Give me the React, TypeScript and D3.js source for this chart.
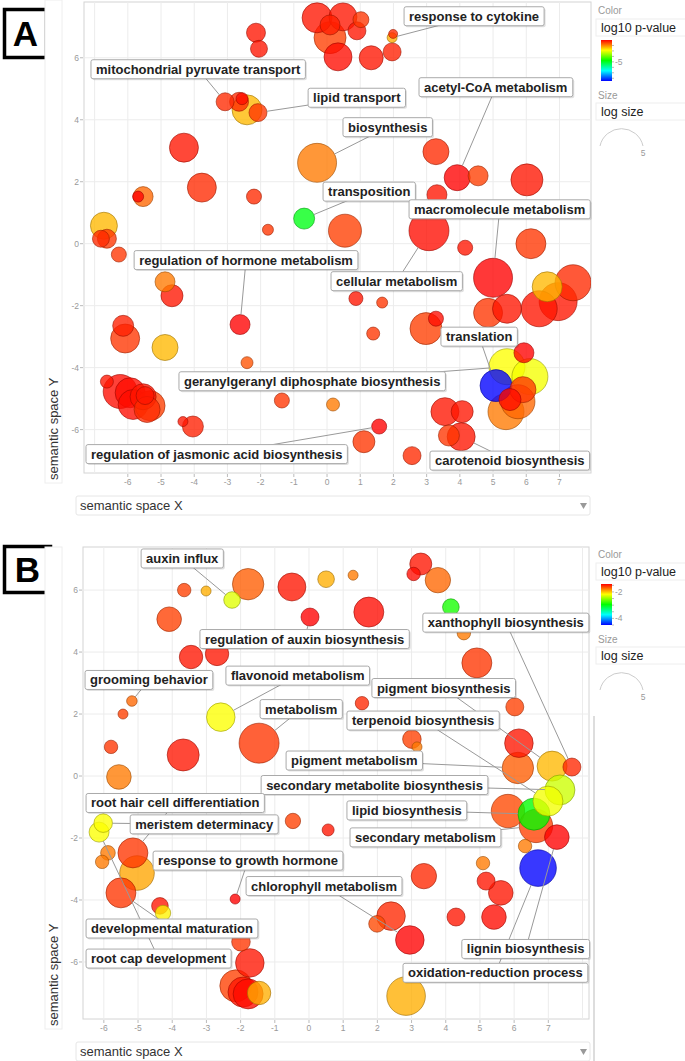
import * as d3 from "d3";
import React from "react";

// [semantic x, semantic y, log size, log10 p-value]
type Bubble = [number, number, number, number];
// [term, box left (x), box middle (y), index of bubble]
type Label = [string, number, number, number];

const bubblesA: Bubble[] = [
	[-0.3, 7.29, 3.57, -1.15], [0.48, 7.32, 3.33, -1.15], [0.09, 6.65, 3.81, -1.45], [0.09, 7.06, 2.38, -1.23],
	[0.33, 6.03, 3.33, -1.08], [1.02, 7.23, 1.9, -1.38], [0.9, 6.87, 2.14, -1.15], [1.99, 6.77, 1.07, -1.3],
	[1.96, 6.65, 1.19, -2.28], [1.96, 6.19, 2.14, -1.23], [1.33, 6.0, 2.86, -1.15], [-2.14, 6.81, 2.26, -1.15],
	[-2.05, 6.29, 2.02, -1.15], [-3.07, 4.58, 2.14, -1.3], [-2.41, 4.32, 3.57, -2.35], [-2.65, 4.58, 2.26, -1.3],
	[-2.56, 4.68, 1.43, -1.08], [-2.08, 4.23, 2.14, -1.38], [-4.31, 3.1, 3.45, -1.15], [-3.77, 1.81, 3.45, -1.3],
	[-2.2, 1.52, 1.79, -1.3], [-5.54, 1.52, 2.38, -1.75], [-5.69, 1.52, 1.31, -1.0], [-6.72, 0.58, 3.21, -2.35],
	[-6.81, 0.16, 2.02, -1.3], [-6.63, 0.16, 2.26, -1.38], [-6.27, -0.35, 1.79, -1.38], [-1.78, 0.45, 1.31, -1.38],
	[-0.69, 0.81, 2.5, -4.9], [0.54, 0.42, 3.93, -1.45], [-0.3, 2.61, 4.64, -1.9], [3.28, 2.97, 3.1, -1.3],
	[3.92, 2.13, 3.1, -1.0], [4.55, 2.19, 2.38, -1.45], [6.02, 2.06, 3.81, -1.15], [3.31, 1.58, 2.38, -1.15],
	[3.07, 0.42, 4.76, -1.08], [4.16, -0.13, 1.79, -1.15], [6.14, 0.0, 3.57, -1.38], [5.0, -1.1, 4.64, -1.0],
	[4.85, -2.23, 3.45, -1.38], [5.42, -2.1, 3.45, -1.15], [6.39, -2.1, 4.29, -1.15], [6.96, -1.87, 4.52, -1.15],
	[7.41, -1.26, 4.29, -1.3], [6.63, -1.39, 3.57, -2.35], [0.87, -1.77, 1.67, -1.15], [1.66, -1.9, 1.31, -1.38],
	[-4.88, -1.23, 2.38, -1.9], [-4.67, -1.68, 2.62, -1.15], [-2.62, -2.61, 2.38, -1.0], [-6.14, -2.65, 2.5, -1.23],
	[-6.08, -3.06, 3.45, -1.38], [-4.88, -3.35, 3.1, -2.35], [-2.41, -3.84, 1.43, -1.6], [1.39, -2.9, 1.55, -1.38],
	[2.98, -2.74, 3.81, -1.45], [3.28, -2.42, 1.79, -1.08], [5.93, -3.52, 2.38, -1.0], [5.42, -3.97, 4.29, -2.88],
	[6.11, -4.29, 4.29, -2.95], [5.39, -5.42, 4.29, -1.9], [5.75, -5.1, 4.05, -1.75], [5.09, -4.58, 3.81, -8.5],
	[5.9, -4.71, 3.1, -1.38], [5.51, -5.03, 2.62, -1.08], [-6.63, -4.45, 1.55, -1.15], [-6.23, -4.77, 4.05, -1.08],
	[-5.93, -4.81, 3.57, -1.08], [-5.84, -5.19, 3.57, -1.08], [-5.54, -4.94, 3.1, -1.15], [-5.33, -5.23, 3.57, -1.45],
	[-5.42, -5.35, 3.1, -1.3], [-5.48, -4.9, 2.14, -1.15], [-4.34, -5.74, 1.19, -1.15], [-4.04, -5.9, 2.5, -1.23],
	[-1.36, -5.06, 1.79, -1.38], [0.18, -5.19, 1.55, -1.9], [3.55, -5.42, 3.33, -1.15], [4.07, -5.42, 2.62, -1.15],
	[3.67, -6.19, 2.5, -1.38], [4.04, -6.23, 3.33, -1.15], [1.57, -5.9, 1.79, -1.0], [1.11, -6.39, 2.62, -1.38],
	[2.56, -6.84, 2.14, -1.3],
];

const labelsA: Label[] = [
	["response to cytokine", 2.32, 7.34, 8],
	["mitochondrial pyruvate transport", -7.11, 5.63, 13],
	["lipid transport", -0.57, 4.71, 17],
	["acetyl-CoA metabolism", 2.77, 5.05, 32],
	["biosynthesis", 0.48, 3.76, 30],
	["transposition", -0.12, 1.68, 28],
	["macromolecule metabolism", 2.47, 1.11, 39],
	["regulation of hormone metabolism", -5.81, -0.53, 50],
	["cellular metabolism", 0.12, -1.21, 36],
	["translation", 3.43, -3.0, 63],
	["geranylgeranyl diphosphate biosynthesis", -4.46, -4.44, 59],
	["regulation of jasmonic acid biosynthesis", -7.26, -6.79, 82],
	["carotenoid biosynthesis", 3.1, -7.0, 81],
];

const bubblesB: Bubble[] = [
	[-3.65, 6.0, 1.6, -1.59], [-3.01, 5.97, 1.19, -1.93], [-2.25, 5.68, 1.98, -2.27], [-1.78, 6.19, 3.74, -1.68],
	[-0.5, 6.1, 3.33, -1.46], [0.5, 6.35, 1.98, -1.93], [0.03, 5.13, 2.14, -1.4], [-4.09, 5.06, 2.93, -1.59],
	[-3.45, 3.84, 2.79, -1.46], [-2.69, 3.94, 2.79, -1.46], [-5.18, 2.42, 1.26, -1.71], [-5.44, 2.0, 1.19, -1.59],
	[-2.58, 1.9, 3.4, -2.18], [-1.46, 1.06, 4.76, -1.56], [-5.79, 0.94, 1.6, -1.56], [-3.68, 0.68, 3.81, -1.46],
	[-5.56, -0.03, 2.93, -1.77], [1.29, 6.48, 1.19, -1.77], [3.27, 6.84, 2.62, -1.46], [3.06, 6.52, 1.6, -1.43],
	[3.77, 6.32, 3.02, -1.71], [1.75, 5.29, 3.57, -1.43], [4.15, 5.45, 1.98, -2.89], [4.53, 4.61, 1.6, -1.77],
	[4.91, 3.65, 3.57, -1.56], [1.55, 2.35, 1.6, -1.52], [6.02, 2.23, 2.14, -1.59], [3.01, 1.19, 2.21, -1.59],
	[3.16, 0.94, 1.19, -1.77], [6.14, 1.06, 3.4, -1.46], [6.11, 0.26, 3.74, -1.68], [7.11, 0.32, 3.57, -1.96],
	[7.69, 0.29, 2.14, -1.52], [7.34, -0.45, 3.57, -2.33], [6.99, -0.81, 3.57, -2.21], [5.82, -1.13, 3.98, -1.62],
	[6.58, -1.23, 3.81, -2.95], [6.64, -1.61, 3.98, -1.59], [7.25, -1.97, 2.93, -1.4], [6.32, -2.26, 1.6, -1.77],
	[6.7, -2.97, 4.36, -4.5], [5.09, -2.81, 1.6, -1.77], [5.18, -3.39, 2.14, -1.46], [5.61, -3.77, 2.93, -1.46],
	[5.41, -4.55, 2.93, -1.43], [4.3, -4.55, 2.14, -1.46], [3.36, -3.23, 3.02, -1.52], [2.4, -4.52, 3.4, -1.52],
	[1.99, -4.77, 1.98, -1.62], [2.95, -5.29, 3.4, -1.4], [2.84, -7.1, 4.6, -1.93], [-6.02, -1.52, 2.21, -2.18],
	[-6.14, -1.81, 2.38, -2.18], [-5.88, -2.48, 1.74, -1.77], [-6.05, -2.77, 1.6, -1.77], [-5.15, -2.48, 3.57, -1.56],
	[-5.03, -3.13, 4.12, -1.9], [-5.5, -3.77, 3.57, -1.56], [-4.36, -4.19, 1.98, -1.46], [-4.27, -4.42, 1.83, -2.14],
	[-2.16, -3.97, 1.19, -1.4], [-0.47, -1.45, 1.83, -1.59], [0.56, -1.74, 1.43, -1.46], [-1.99, -5.35, 2.21, -1.56],
	[-1.73, -6.03, 3.4, -1.46], [-2.14, -6.77, 3.81, -1.59], [-1.93, -6.97, 3.57, -1.46], [-1.78, -7.03, 3.57, -1.43],
	[-1.46, -7.0, 2.79, -1.93],
];

const labelsB: Label[] = [
	["auxin influx", -4.91, 7.02, 2],
	["regulation of auxin biosynthesis", -3.19, 4.42, 6],
	["grooming behavior", -6.55, 3.1, 10],
	["flavonoid metabolism", -2.43, 3.24, 12],
	["metabolism", -1.43, 2.16, 13],
	["pigment biosynthesis", 1.84, 2.84, 31],
	["terpenoid biosynthesis", 1.11, 1.79, 34],
	["pigment metabolism", -0.67, 0.5, 30],
	["secondary metabolite biosynthesis", -1.4, -0.29, 33],
	["lipid biosynthesis", 1.11, -1.11, 36],
	["secondary metabolism", 1.2, -1.98, 37],
	["xanthophyll biosynthesis", 3.33, 4.95, 32],
	["root hair cell differentiation", -6.52, -0.87, 55],
	["meristem determinacy", -5.23, -1.56, 51],
	["response to growth hormone", -4.56, -2.73, 60],
	["chlorophyll metabolism", -1.84, -3.55, 49],
	["developmental maturation", -6.52, -4.92, 57],
	["root cap development", -6.52, -5.89, 52],
	["lignin biosynthesis", 4.47, -5.58, 38],
	["oxidation-reduction process", 2.75, -6.35, 40],
];

const xTicks = [-6, -5, -4, -3, -2, -1, 0, 1, 2, 3, 4, 5, 6, 7];
const yTicks = [-6, -4, -2, 0, 2, 4, 6];
const colorTicksA = [-5];
const colorMinorA = [-2, -3, -4, -5, -6, -7, -8];
const colorTicksB = [-2, -4];
const colorMinorB = [-1.5, -2, -2.5, -3, -3.5, -4, -4.5];
const sizeTicks = [5];

const jet = ["#ff0000", "#ffff00", "#00ff00", "#00ffff", "#0000ff"];
const jetScale = d3.scaleLinear<string>().domain([0, 0.25, 0.5, 0.75, 1]).range(jet).clamp(true);

const FONT = "'Liberation Sans', Arial, sans-serif";
const LABEL_FONT = `bold 13px ${FONT}`;

const ctx = document.createElement("canvas").getContext("2d")!;
const textWidth = (t: string, font: string) => {
	ctx.font = font;
	return ctx.measureText(t).width;
};

const panels = [
	{
		id: "A", oy: 0, letterBox: [3, 8, 45, 51],
		plot: {x0: 84, x1: 591, y0: 2, y1: 473},
		xDomain: [-7.32, 7.95], yDomain: [-7.4, 7.8],
		cDomain: [-1, -8.5], cTicks: colorTicksA, cMinor: colorMinorA,
		bubbles: bubblesA, labels: labelsA, scrollbar: false,
	},
	{
		id: "B", oy: 544, letterBox: [3, 545, 49, 49],
		plot: {x0: 83, x1: 589, y0: 547, y1: 1019},
		xDomain: [-6.61, 8.19], yDomain: [-7.84, 7.39],
		cDomain: [-1.4, -4.5], cTicks: colorTicksB, cMinor: colorMinorB,
		bubbles: bubblesB, labels: labelsB, scrollbar: true,
	},
];

function Panel({p}: {p: any}) {
	const {plot, oy} = p;
	const x = d3.scaleLinear().domain(p.xDomain).range([plot.x0, plot.x1]);
	const y = d3.scaleLinear().domain(p.yDomain).range([plot.y1, plot.y0]);
	const r = d3.scaleLinear().domain([0, 5]).range([0, 21]);
	const tc = d3.scaleLinear().domain(p.cDomain).range([0, 1]);
	const color = (v: number) => jetScale(tc(v));

	const gridX = d3.range(Math.ceil(p.xDomain[0]), Math.floor(p.xDomain[1]) + 1);
	const order = d3.range(p.bubbles.length).sort((a, b) => p.bubbles[b][2] - p.bubbles[a][2]);

	const boxes = p.labels.map(([text, lx, ly, target]: Label) => {
		const w = textWidth(text, LABEL_FONT) + 10;
		const h = 19;
		const left = x(lx);
		const top = y(ly) - h / 2;
		const b = p.bubbles[target];
		const bx = x(b[0]), by = y(b[1]), br = r(b[2]);
		const cx = left + w / 2, cy = top + h / 2;
		const d = Math.hypot(cx - bx, cy - by) || 1;
		const ex = bx + ((cx - bx) / d) * br;
		const ey = by + ((cy - by) / d) * br;
		return {text, left, top, w, h, cx, cy, ex, ey};
	});

	// legend
	const lx = 596, ly = oy;
	const barTop = ly + 40, barBottom = ly + 81;
	const cy = d3.scaleLinear().domain(p.cDomain).range([barTop, barBottom]);
	const gradId = `grad${p.id}`;
	const [lbx, lby, lbw, lbh] = p.letterBox;

	return (
		<g>
			<defs>
				<linearGradient id={gradId} x1="0" y1="0" x2="0" y2="1">
					{jet.map((c, i) => <stop key={i} offset={`${i * 25}%`} stopColor={c} />)}
				</linearGradient>
				<clipPath id={`clip${p.id}`}>
					<rect x={plot.x0} y={plot.y0} width={plot.x1 - plot.x0} height={plot.y1 - plot.y0} />
				</clipPath>
			</defs>

			{/* panel letter */}
			<rect x={lbx + 1.5} y={lby + 1.5} width={lbw - 3} height={lbh - 3} fill="#fff" stroke="#000" strokeWidth={3.5} />
			<text x={lbx + lbw / 2} y={lby + lbh / 2 + 12.5} textAnchor="middle" fontFamily={FONT} fontWeight="bold" fontSize={35}>{p.id}</text>
			<path d={`M52,${oy + 5}L57,${oy + 7.5}L52,${oy + 10}Z`} fill="#aaa" />

			{/* y title */}
			<rect x={45} y={p.id === "A" ? 0 : plot.y0} width={17} height={plot.y1 + 10 - (p.id === "A" ? 0 : plot.y0)} fill="#fff" stroke="#eee" />
			<text transform={`translate(58,${plot.y1 + 7}) rotate(-90)`} fontFamily={FONT} fontSize={13} fill="#333">semantic space Y</text>

			{/* x title */}
			<rect x={76} y={plot.y1 + 23} width={514} height={19} rx={2} fill="#fff" stroke="#e6e6e6" />
			<text x={80} y={plot.y1 + 37} fontFamily={FONT} fontSize={13} fill="#333">semantic space X</text>
			<path d={`M580,${plot.y1 + 30}L587,${plot.y1 + 30}L583.5,${plot.y1 + 36}Z`} fill="#999" />

			{/* plot */}
			<rect x={plot.x0} y={plot.y0} width={plot.x1 - plot.x0} height={plot.y1 - plot.y0} fill="#fff" stroke="#d4d4d4" />
			{gridX.map((v) => (
				<line key={`gx${v}`} x1={x(v)} x2={x(v)} y1={plot.y0} y2={plot.y1} stroke="#ececec" />
			))}
			{yTicks.map((v) => (
				<line key={`gy${v}`} x1={plot.x0} x2={plot.x1} y1={y(v)} y2={y(v)} stroke="#ececec" />
			))}
			{xTicks.map((v) => (
				<g key={`tx${v}`}>
					<line x1={x(v)} x2={x(v)} y1={plot.y1 + 1} y2={plot.y1 + 4} stroke="#bbb" />
					<text x={x(v)} y={plot.y1 + 12} textAnchor="middle" fontFamily={FONT} fontSize={8.5} fill="#999">{v}</text>
				</g>
			))}
			{yTicks.map((v) => (
				<g key={`ty${v}`}>
					<line x1={plot.x0 - 4} x2={plot.x0 - 1} y1={y(v)} y2={y(v)} stroke="#bbb" />
					<text x={plot.x0 - 5} y={y(v) + 3} textAnchor="end" fontFamily={FONT} fontSize={8.5} fill="#999">{v}</text>
				</g>
			))}

			<g clipPath={`url(#clip${p.id})`}>
				{order.map((i) => {
					const b = p.bubbles[i];
					const c = color(b[3]);
					return (
						<circle key={i} cx={x(b[0])} cy={y(b[1])} r={r(b[2])} fill={c} fillOpacity={0.78}
							stroke={d3.rgb(c).darker(1.4).toString()} strokeOpacity={0.75} strokeWidth={0.8} />
					);
				})}
			</g>

			{boxes.map((b: any, i: number) => (
				<line key={`l${i}`} x1={b.cx} y1={b.cy} x2={b.ex} y2={b.ey} stroke="#999" strokeWidth={1} />
			))}
			{boxes.map((b: any, i: number) => (
				<g key={`b${i}`}>
					<rect x={b.left + 1.5} y={b.top + 1.5} width={b.w} height={b.h} rx={2} fill="#000" fillOpacity={0.12} />
					<rect x={b.left} y={b.top} width={b.w} height={b.h} rx={2} fill="#fff" stroke="#aaa" />
					<text x={b.left + 5} y={b.top + 14} fontFamily={FONT} fontWeight="bold" fontSize={13} fill="#222">{b.text}</text>
				</g>
			))}

			{/* legend */}
			<text x={lx + 2} y={ly + 14} fontFamily={FONT} fontSize={10} fill="#999">Color</text>
			<rect x={lx} y={ly + 19} width={100} height={17} fill="#fff" stroke="#eee" />
			<text x={lx + 5} y={ly + 32} fontFamily={FONT} fontSize={12.5} fill="#222">log10 p-value</text>
			<rect x={lx + 5} y={barTop} width={11} height={barBottom - barTop} fill={`url(#${gradId})`} />
			{p.cMinor.map((v: number) => (
				<line key={`cm${v}`} x1={lx + 16} x2={lx + 18} y1={cy(v)} y2={cy(v)} stroke="#bbb" />
			))}
			{p.cTicks.map((v: number) => (
				<text key={`ct${v}`} x={lx + 19} y={cy(v) + 3} fontFamily={FONT} fontSize={8.5} fill="#999">{v}</text>
			))}
			<text x={lx + 2} y={ly + 99} fontFamily={FONT} fontSize={10} fill="#999">Size</text>
			<rect x={lx} y={ly + 103} width={100} height={17} fill="#fff" stroke="#eee" />
			<text x={lx + 5} y={ly + 116} fontFamily={FONT} fontSize={12.5} fill="#222">log size</text>
			<path d={`M${lx + 4},${ly + 146}A22,22 0 0 1 ${lx + 47},${ly + 146}`} fill="none" stroke="#ccc" />
			{sizeTicks.map((v) => (
				<text key={`s${v}`} x={lx + 47} y={ly + 156} textAnchor="middle" fontFamily={FONT} fontSize={8.5} fill="#999">{v}</text>
			))}

			{p.scrollbar && <line x1={594} x2={594} y1={oy + 172} y2={1061} stroke="#ddd" strokeWidth={2} />}
		</g>
	);
}

export default function App() {
	return (
		<svg width={685} height={1061} style={{position: "absolute", left: 0, top: 0, background: "#fff"}}>
			<rect width={685} height={1061} fill="#fff" />
			{panels.map((p) => <Panel key={p.id} p={p} />)}
		</svg>
	);
}
